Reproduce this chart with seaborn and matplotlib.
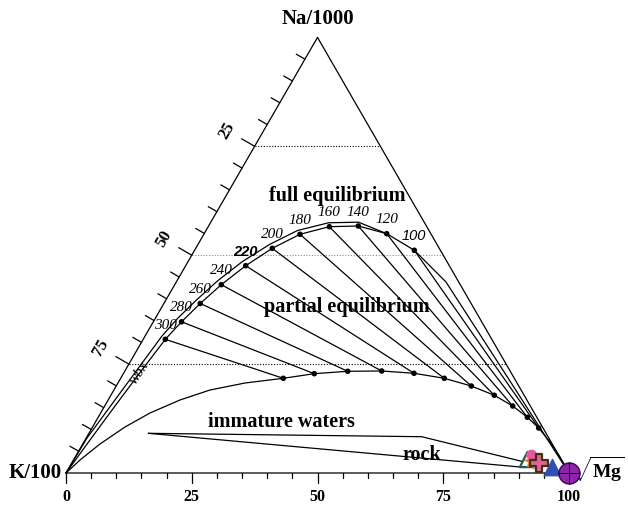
import numpy as np
import pandas as pd
import matplotlib
matplotlib.use("Agg")
import matplotlib.pyplot as plt
import seaborn as sns

sns.set_style("white")
plt.rcParams['font.family'] = ['Liberation Serif', 'DejaVu Serif']
plt.rcParams['text.color'] = 'black'
plt.rcParams['mathtext.fontset'] = 'custom'
plt.rcParams['mathtext.rm'] = 'Liberation Serif'
plt.rcParams['mathtext.bf'] = 'Liberation Serif:bold'

# ---------------- data (ternary %, Na/1000 and sqrt(Mg); K/100 = remainder) -------------
temps = [300, 280, 260, 240, 220, 200, 180, 160, 140, 120, 100]
# full equilibrium points
full_na = [30.69, 34.71, 38.91, 43.23, 47.59, 51.58, 54.80, 56.54, 56.70, 54.94, 51.13]
full_mg = [4.40, 5.61, 7.23, 9.26, 11.93, 15.22, 19.12, 24.08, 29.76, 36.29, 43.68]
# partial equilibrium (immature limit) points
part_na = [21.74, 22.80, 23.35, 23.42, 22.89, 21.74, 19.97, 17.84, 15.38, 12.79, 10.33]
part_mg = [32.33, 37.96, 44.33, 51.05, 57.74, 64.34, 70.59, 76.23, 81.12, 85.32, 88.81]

# full equilibrium curve: section from K vertex, and section after 100 C towards sqrt(Mg)
full_head_na = [0.0, 7.58, 15.38, 23.07]
full_head_mg = [0.0, 0.98, 2.05, 3.18]
full_tail_na = [43.85, 21.81, 0.0]
full_tail_mg = [53.62, 76.97, 100.0]

# outer (parallel) equilibrium curve
outer_na = [0.0, 8.03, 15.84, 23.65, 31.45, 35.58, 39.83, 44.19, 48.55, 52.46, 55.67, 57.44, 57.58, 54.94]
outer_mg = [0.0, 0.16, 1.23, 2.29, 3.36, 4.48, 6.13, 8.12, 10.81, 14.23, 18.19, 23.47, 29.36, 36.29]

# partial equilibrium curve ends
part_head_na = [0.0, 2.98, 6.66, 10.56, 13.77, 16.76, 19.05, 20.66]
part_head_mg = [0.0, 1.29, 3.43, 6.45, 9.81, 14.28, 19.10, 25.26]
part_tail_na = [7.12, 3.67, 0.0]
part_tail_mg = [92.66, 96.37, 100.0]

# rock dissolution wedge
rock_upper_na = [9.11, 8.33, 2.59]
rock_upper_mg = [11.81, 66.55, 89.62]
rock_lower_na = [9.11, 1.31]
rock_lower_mg = [11.81, 90.26]

# sample points
samples = [
    # name, Na, Mg
    ("teal", 3.21, 89.98),
    ("orange", 2.98, 91.41),
    ("pink", 4.13, 90.51),
    ("cross", 2.23, 92.98),
    ("blue", 1.31, 95.90),
    ("purple", 0.0, 100.0),
]

bottom_ticks = [0, 25, 50, 75, 100]
left_tick_labels = [25, 50, 75]

# ---------------- helpers --------------------------------------------------------------
H = np.sqrt(3) / 2
S = 5.03          # pixels per unit
X0, Y0 = 66, 473  # pixel position of K/100 vertex


def tern(na, mg):
    na = np.asarray(na, float)
    mg = np.asarray(mg, float)
    return mg + na / 2, na * H


def P(xp, yp):
    return (xp - X0) / S, (Y0 - yp) / S


def curve_df(na, mg):
    x, y = tern(na, mg)
    return pd.DataFrame({"x": x, "y": y, "i": np.arange(len(x))})


fig = plt.figure(figsize=(6.28, 5.09), dpi=100)
ax = fig.add_axes([0, 0, 1, 1])
ax.set_xlim(-X0 / S, (628 - X0) / S)
ax.set_ylim(-(509 - Y0) / S, Y0 / S)
ax.axis("off")

LW = 0.9
# triangle
tri = curve_df([0, 100, 0, 0], [0, 0, 100, 0])
ax.plot(tri.x, tri.y, color="black", lw=0.9, zorder=2)

# dotted horizontals
for na, col in [(25, "black"), (50, "0.55"), (75, "black")]:
    ax.plot([na / 2, 100 - na / 2], [na * H, na * H], ls=(0, (1, 1.5)), color=col, lw=0.8, zorder=1)

# bottom ticks
for v in range(0, 101, 5):
    L = 10 if v % 25 == 0 else 5
    ax.plot([v, v], [0, -L / S], color="black", lw=0.9)
for v in bottom_ticks:
    ax.text(v, (Y0 - 497) / S, str(v), ha="center", va="center", fontsize=11.5, fontweight="bold")

# left ticks
nx, ny = -H, 0.5
for na in range(5, 100, 5):
    L = 15 if na % 25 == 0 else 10
    x, y = na / 2, na * H
    ax.plot([x, x + nx * L / S], [y, y + ny * L / S], color="black", lw=0.9)
for v in left_tick_labels:
    na = 100 - v
    x, y = na / 2, na * H
    ax.text(x + nx * 32 / S, y + ny * 32 / S, str(v), rotation=60, ha="center", va="center",
            fontsize=12, fontweight="bold")

# curves
full_curve = curve_df(full_head_na + full_na + full_tail_na, full_head_mg + full_mg + full_tail_mg)
sns.lineplot(data=full_curve, x="x", y="y", sort=False, estimator=None, color="black", lw=LW, ax=ax)
outer_curve = curve_df(outer_na, outer_mg)
sns.lineplot(data=outer_curve, x="x", y="y", sort=False, estimator=None, color="black", lw=LW, ax=ax)
part_curve = curve_df(part_head_na + part_na + part_tail_na, part_head_mg + part_mg + part_tail_mg)
sns.lineplot(data=part_curve, x="x", y="y", sort=False, estimator=None, color="black", lw=LW, ax=ax)

# tie lines
fx, fy = tern(full_na, full_mg)
px_, py_ = tern(part_na, part_mg)
ties = pd.DataFrame({
    "x": np.concatenate([fx, px_]),
    "y": np.concatenate([fy, py_]),
    "t": temps + temps,
    "o": [0] * len(temps) + [1] * len(temps),
}).sort_values(["t", "o"])
sns.lineplot(data=ties, x="x", y="y", units="t", estimator=None, sort=False, color="black", lw=LW, ax=ax)

# rock wedge
for na, mg in [(rock_upper_na, rock_upper_mg), (rock_lower_na, rock_lower_mg)]:
    sns.lineplot(data=curve_df(na, mg), x="x", y="y", sort=False, estimator=None, color="black", lw=LW, ax=ax)

# dots
sns.scatterplot(x=fx, y=fy, color="black", s=16, edgecolor="none", ax=ax, zorder=5)
sns.scatterplot(x=px_, y=py_, color="black", s=16, edgecolor="none", ax=ax, zorder=5)

# temperature labels
for t, x, y in zip(temps, fx, fy):
    kw = dict(fontsize=11, style="italic")
    if t == 220:
        kw.update(family=["Liberation Sans", "DejaVu Sans"], fontweight="bold", fontsize=10.5)
    elif t == 100:
        kw.update(family=["Liberation Sans", "DejaVu Sans"], fontsize=10.5)
    ax.annotate(str(t), (x, y), xytext=(0, 10), textcoords="offset points", ha="center", va="center", **kw)

# sample markers
sx = {n: tern(na, mg) for n, na, mg in samples}
sns.scatterplot(x=[sx["teal"][0]], y=[sx["teal"][1]], marker="^", s=120, facecolor="white",
                edgecolor="#1d5c5c", linewidth=1.6, ax=ax, zorder=6)
sns.scatterplot(x=[sx["orange"][0]], y=[sx["orange"][1]], marker=(8, 1, 0), s=150, color="#ff7a1a",
                edgecolor="#ff7a1a", ax=ax, zorder=6)
sns.scatterplot(x=[sx["pink"][0]], y=[sx["pink"][1]], marker="o", s=60, color="#e8559b",
                edgecolor="none", ax=ax, zorder=6)
sns.scatterplot(x=[sx["cross"][0]], y=[sx["cross"][1]], marker="P", s=180, facecolor="#e8609a",
                edgecolor="#3a3510", linewidth=1.6, ax=ax, zorder=7)
sns.scatterplot(x=[sx["blue"][0]], y=[sx["blue"][1]], marker="^", s=140, color="#2f4fb5",
                edgecolor="#2f4fb5", ax=ax, zorder=6)
sns.scatterplot(x=[sx["purple"][0]], y=[sx["purple"][1]], marker="o", s=230, color="#8e24aa",
                edgecolor="#3b0a50", linewidth=1.0, ax=ax, zorder=8)
sns.scatterplot(x=[sx["purple"][0]], y=[sx["purple"][1]], marker="+", s=230, color="black",
                linewidth=0.7, ax=ax, zorder=9)

# texts
ax.text(*P(318, 19), "Na/1000", ha="center", va="center", fontsize=15, fontweight="bold")
ax.text(*P(35, 473), "K/100", ha="center", va="center", fontsize=15, fontweight="bold")
ax.text(*P(625, 469), r"$\sqrt{\mathbf{Mg}}$", ha="right", va="center", fontsize=14)
ax.text(*P(337, 196), "full equilibrium", ha="center", va="center", fontsize=14.5, fontweight="bold")
ax.text(*P(347, 307), "partial equilibrium", ha="center", va="center", fontsize=14.5, fontweight="bold")
ax.text(*P(281, 422), "immature waters", ha="center", va="center", fontsize=14.5, fontweight="bold")
ax.text(*P(422, 455), "rock", ha="center", va="center", fontsize=14.5, fontweight="bold")
ax.text(*P(139, 373), "wbx", ha="center", va="center", fontsize=11, style="italic", rotation=57)

fig.savefig("out.png", dpi=100)
